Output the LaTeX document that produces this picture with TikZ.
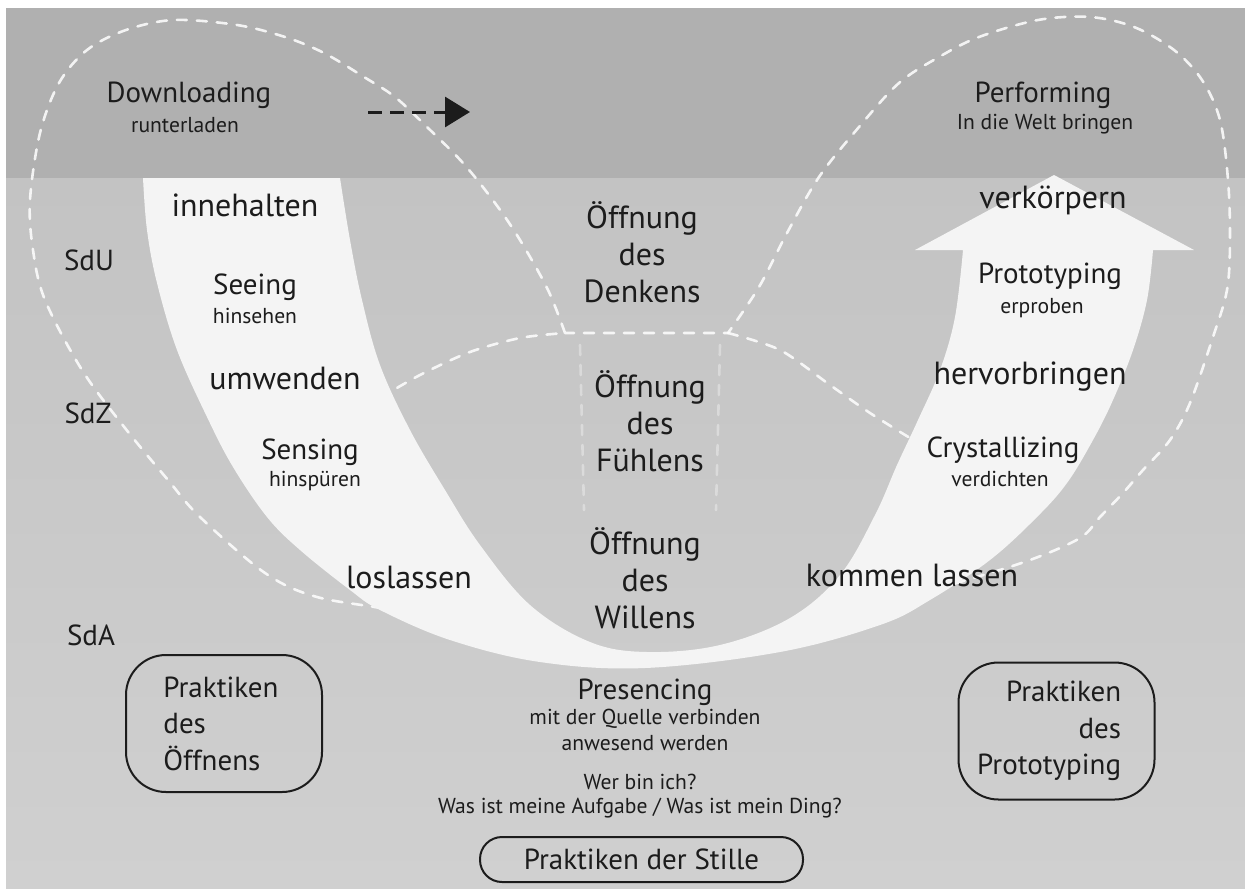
\documentclass[tikz,border=0pt]{standalone}
\usepackage{fontspec}
\setmainfont{PT Sans}
\usetikzlibrary{arrows.meta}
\definecolor{bandgrey}{RGB}{176,176,176}
\definecolor{maingrey}{RGB}{195,195,195}
\definecolor{lowgrey}{RGB}{208,208,208}
\definecolor{uwhite}{RGB}{244,244,244}
\definecolor{ink}{RGB}{28,28,28}
\newcommand{\fbig}{\fontsize{16}{19}\selectfont}
\newcommand{\fmid}{\fontsize{14.5}{18}\selectfont}
\newcommand{\fsmall}{\fontsize{10.8}{13}\selectfont}
\newcommand{\fblock}{\fontsize{16}{18.6}\selectfont}
\newcommand{\fboxtxt}{\fontsize{14.5}{18.25}\selectfont}
\begin{document}
\begin{tikzpicture}[x=0.5pt,y=-0.5pt,
  txt/.style={text=ink, inner sep=0pt},
  verb/.style={txt, font=\fbig},
  ger/.style={txt, font=\fmid},
  sub/.style={txt, font=\fsmall},
  block/.style={txt, font=\fblock, align=center},
  dashline/.style={draw=white, line width=1.3pt, dash pattern=on 5pt off 5pt, line cap=round, draw opacity=0.85},
  faintdash/.style={dashline, draw opacity=0.35},
  pbox/.style={draw=ink, line width=1pt, rounded corners=20pt, minimum width=98pt, minimum height=68.5pt, inner sep=0pt},
  boxtxt/.style={txt, font=\fboxtxt},
]
\useasboundingbox (0,0) rectangle (1245,888);
\fill[white] (0,0) rectangle (1245,888);
\fill[bandgrey] (6,8) rectangle (1245,178);
\shade[top color=maingrey, bottom color=lowgrey] (6,178) rectangle (1245,888);

% dashed loops
\draw[dashline] plot[smooth, tension=0.55] coordinates {(565,333) (548,290) (520,240) (495,203) (463,163) (427,127) (395,97) (364,77) (324,53) (285,37) (237,25) (174,20) (126,30) (87,50) (59,83) (40,133) (30,200) (33,250) (45,300) (82,370) (125,428) (168,480) (200,517) (265,573) (317,597) (400,612) (500,642) (640,660) (780,640) (880,605) (960,582) (1030,560) (1080,538) (1100,517) (1123,493) (1143,470) (1170,440) (1190,403) (1213,337) (1227,290) (1230,240) (1228,180) (1220,120) (1202,80) (1174,50) (1134,27) (1090,17) (1038,20) (979,37) (939,57) (899,83) (859,127) (819,177) (787,233) (759,287) (728,333)} -- cycle;
\draw[dashline] plot[smooth] coordinates {(380,398) (420,375) (470,352) (520,338) (565,333)};
\draw[dashline] plot[smooth] coordinates {(728,333) (780,350) (830,385) (870,413) (910,438)};
\draw[faintdash] (580,345) -- (584,510);
\draw[faintdash] (720,345) -- (716,510);

% white U arrow
\fill[uwhite] (143,178) -- (340,178)
  -- plot[smooth, tension=0.6] coordinates {(340,178) (350,240) (362,300) (380,365) (410,430) (445,490) (480,545) (530,605) (590,642) (647,652) (720,645) (790,618) (840,575) (875,515) (897,465) (918,420) (940,370) (955,317) (963,250)}
  -- (915,250) -- (1054,175) -- (1194,250) -- (1153,250)
  -- plot[smooth, tension=0.6] coordinates {(1153,250) (1147,300) (1133,350) (1113,400) (1093,440) (1067,483) (1037,517) (990,560) (930,600) (880,625) (780,652) (645,668) (540,662) (450,640) (380,610) (350,590) (300,550) (267,517) (233,467) (207,417) (177,350) (157,283) (147,230) (143,178)}
  -- cycle;

% dashed arrow
\coordinate (arrS) at (368,112);
\coordinate (arrE) at (470,112);
\draw[ink, line width=1.5pt, dash pattern=on 7pt off 4pt, -{Triangle[length=12.5pt,width=15pt]}] (arrS) -- (arrE);

% top labels
\node[ger] (down) at (189,95) {Downloading};
\node[sub] (downs) at (185,125) {runterladen};
\node[ger] (perf) at (1043,95) {Performing};
\node[sub] (perfs) at (1045,124) {In die Welt bringen};

% left column
\node[verb] (inne) at (245,205) {innehalten};
\node[ger] (sdu) at (89,260) {SdU};
\node[ger] (see) at (255,287) {Seeing};
\node[sub] (sees) at (255,316) {hinsehen};
\node[verb] (umw) at (285,378) {umwenden};
\node[ger] (sdz) at (88,413) {SdZ};
\node[ger] (sens) at (310,452) {Sensing};
\node[sub] (senss) at (315,481) {hinspüren};
\node[verb] (los) at (409,577) {loslassen};
\node[ger] (sda) at (91,635) {SdA};

% center column
\node[block] (denk) at (642,252) {Öffnung\\des\\Denkens};
\node[block] (fuehl) at (650,421) {Öffnung\\des\\Fühlens};
\node[block] (will) at (645,578) {Öffnung\\des\\Willens};

% right column
\node[verb] (verk) at (1053,200) {verkörpern};
\node[ger] (proto) at (1050,276) {Prototyping};
\node[sub] (protos) at (1042,308) {erproben};
\node[verb] (herv) at (1030,377) {hervorbringen};
\node[ger] (cryst) at (1003,450) {Crystallizing};
\node[sub] (crysts) at (1000,479) {verdichten};
\node[verb] (komm) at (912,575) {kommen lassen};

% bottom
\node[ger] (pres) at (645,692) {Presencing};
\node[sub] (pres1) at (645,719) {mit der Quelle verbinden};
\node[sub] (pres2) at (645,743) {anwesend werden};
\node[sub] (q1) at (640,782) {Wer bin ich?};
\node[sub] (q2) at (640,808) {Was ist meine Aufgabe / Was ist mein Ding?};

\node[draw=ink, line width=1pt, rounded corners=11pt, minimum width=161.5pt, minimum height=22.5pt, inner sep=0pt, font=\fmid, text=ink] (stille) at (641.5,859.5) {Praktiken der Stille};

\node[pbox] (boxL) at (224,723.5) {};
\node[boxtxt, align=left, anchor=west] (txtL) at ([xshift=19pt]boxL.west) {Praktiken\\des\\Öffnens};
\node[pbox] (boxR) at (1056.5,731) {};
\node[boxtxt, align=right, anchor=east] (txtR) at ([xshift=-17pt]boxR.east) {Praktiken\\des\\Prototyping};
\end{tikzpicture}
\end{document}
